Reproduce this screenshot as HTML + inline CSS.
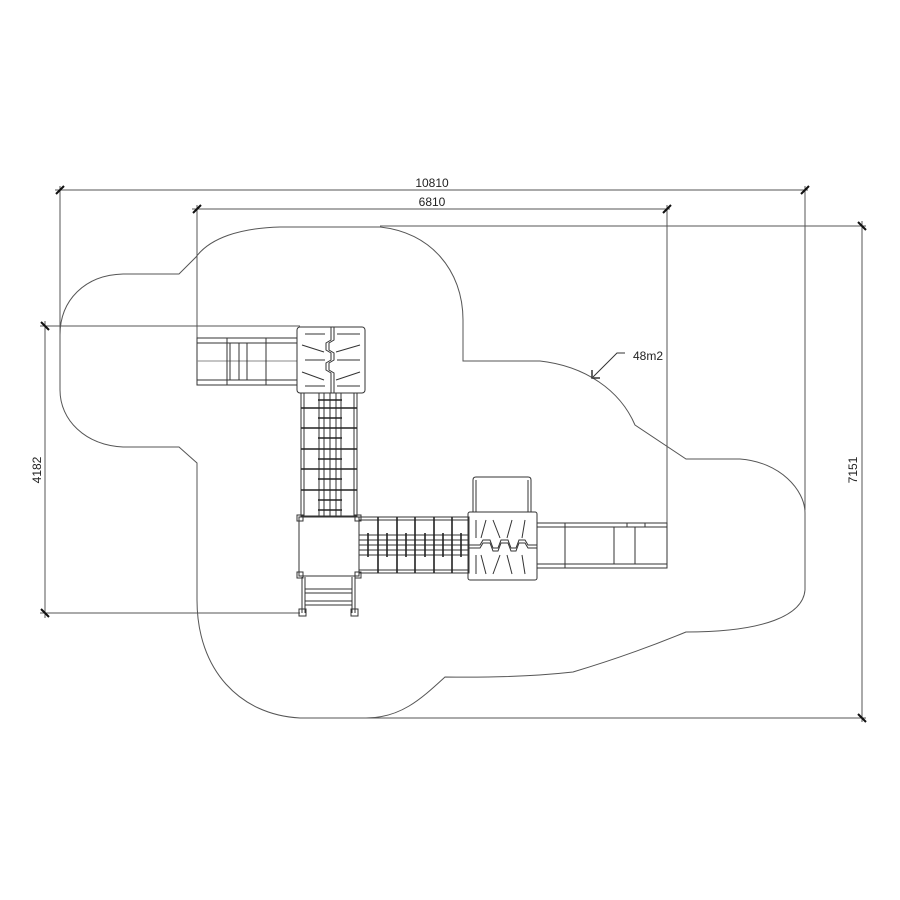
<!DOCTYPE html>
<html><head><meta charset="utf-8"><style>html,body{margin:0;padding:0;background:#fff}svg{display:block}</style></head>
<body>
<svg width="900" height="900" viewBox="0 0 900 900" xmlns="http://www.w3.org/2000/svg" font-family="Liberation Sans, sans-serif">
<g fill="none" stroke="#555" stroke-width="1">
<!-- cloud -->
<path d="M60,335 C60,300 85,275 123,274 L179,274 L196,257 C210,238 240,228 280,227 L380,227 C430,232 463,270 463,320 L463,361 L540,361 C585,366 620,390 635,425 L686,459 L740,459 C780,462 805,490 805,513 L805,590 C803,615 765,632 686,632 Q630,655 573,672 Q520,678 445,677 C420,700 400,718 366,718 L300,718 C240,715 197,670 197,600 L197,463 L179,447 L123,447 C85,445 60,420 60,390 Z"/>
<!-- dimension lines -->
<line x1="55" y1="190" x2="808" y2="190"/>
<line x1="60" y1="186" x2="60" y2="335"/>
<line x1="805" y1="186" x2="805" y2="510"/>
<line x1="192" y1="209" x2="670" y2="209"/>
<line x1="197" y1="205" x2="197" y2="340"/>
<line x1="667" y1="205" x2="667" y2="525"/>
<line x1="380" y1="226" x2="866" y2="226"/>
<line x1="300" y1="718" x2="866" y2="718"/>
<line x1="862" y1="221" x2="862" y2="722"/>
<line x1="40" y1="326" x2="300" y2="326"/>
<line x1="40" y1="613" x2="300" y2="613"/>
<line x1="45" y1="321" x2="45" y2="618"/>
</g>
<g stroke="#111" stroke-width="2">
<line x1="56" y1="194" x2="64" y2="186"/><line x1="801" y1="194" x2="809" y2="186"/>
<line x1="193" y1="213" x2="201" y2="205"/><line x1="663" y1="213" x2="671" y2="205"/>
<line x1="858" y1="222" x2="866" y2="230"/><line x1="858" y1="714" x2="866" y2="722"/>
<line x1="41" y1="322" x2="49" y2="330"/><line x1="41" y1="609" x2="49" y2="617"/>
</g>
<g font-size="12" fill="#222" text-anchor="middle">
<text x="432" y="187">10810</text>
<text x="432" y="206">6810</text>
<text transform="translate(41,470) rotate(-90)">4182</text>
<text transform="translate(857,470) rotate(-90)">7151</text>
<text x="648" y="360">48m2</text>
</g>
<polyline points="625,353 617,353 593,377" fill="none" stroke="#333"/>
<polyline points="592,370 592,378 600,378" fill="none" stroke="#333" stroke-width="1.5"/>

<!-- structure -->
<g fill="none" stroke="#333" stroke-width="1">
<rect x="197" y="338" width="100" height="47"/>
<line x1="197" y1="343" x2="297" y2="343"/><line x1="197" y1="380" x2="297" y2="380"/>
<line x1="197" y1="361" x2="297" y2="361" stroke="#888"/>
<line x1="227" y1="338" x2="227" y2="385"/><line x1="230" y1="343" x2="230" y2="380"/>
<line x1="239" y1="343" x2="239" y2="380"/><line x1="247" y1="343" x2="247" y2="380"/>
<line x1="266" y1="338" x2="266" y2="385"/>
<rect x="297" y="327" width="68" height="66" rx="3"/>
<polyline points="331,327 331,340 326,343 326,350 331,353 331,360 326,363 326,370 331,373 331,393"/>
<polyline points="334,327 334,340 329,343 329,350 334,353 334,360 329,363 329,370 334,373 334,393"/>
<line x1="305" y1="334" x2="325" y2="334"/><line x1="337" y1="334" x2="360" y2="334"/>
<line x1="302" y1="345" x2="324" y2="352"/><line x1="336" y1="352" x2="360" y2="345"/>
<line x1="305" y1="360" x2="325" y2="360"/><line x1="337" y1="360" x2="360" y2="360"/>
<line x1="302" y1="372" x2="324" y2="380"/><line x1="336" y1="380" x2="360" y2="372"/>
<line x1="305" y1="386" x2="325" y2="386"/><line x1="337" y1="386" x2="360" y2="386"/>
<rect x="301" y="393" width="56" height="123"/>
<line x1="304" y1="393" x2="304" y2="516"/><line x1="354" y1="393" x2="354" y2="516"/>
<line x1="319" y1="393" x2="319" y2="516"/><line x1="324" y1="393" x2="324" y2="516"/>
<line x1="330" y1="393" x2="330" y2="516"/><line x1="336" y1="393" x2="336" y2="516"/><line x1="341" y1="393" x2="341" y2="516"/>
</g>
<g stroke="#222" stroke-width="1.6">
<line x1="318" y1="400" x2="342" y2="400"/><line x1="301" y1="408" x2="357" y2="408"/>
<line x1="318" y1="418" x2="342" y2="418"/><line x1="301" y1="428" x2="357" y2="428"/>
<line x1="318" y1="438" x2="342" y2="438"/><line x1="301" y1="449" x2="357" y2="449"/>
<line x1="318" y1="459" x2="342" y2="459"/><line x1="301" y1="469" x2="357" y2="469"/>
<line x1="318" y1="479" x2="342" y2="479"/><line x1="301" y1="490" x2="357" y2="490"/>
<line x1="318" y1="500" x2="342" y2="500"/><line x1="318" y1="510" x2="342" y2="510"/>
</g>
<g fill="none" stroke="#333" stroke-width="1">
<rect x="299" y="517" width="60" height="59"/>
<rect x="297" y="515" width="6" height="6"/><rect x="355" y="515" width="6" height="6"/>
<rect x="297" y="572" width="6" height="6"/><rect x="355" y="572" width="6" height="6"/>
<line x1="302" y1="577" x2="302" y2="613"/><line x1="305" y1="577" x2="305" y2="613"/>
<line x1="352" y1="577" x2="352" y2="613"/><line x1="355" y1="577" x2="355" y2="613"/>
<line x1="305" y1="589" x2="352" y2="589"/><line x1="305" y1="593" x2="352" y2="593"/>
<line x1="305" y1="601" x2="352" y2="601"/><line x1="305" y1="605" x2="352" y2="605"/>
<rect x="299" y="609" width="7" height="7"/><rect x="351" y="609" width="7" height="7"/>
<rect x="359" y="517" width="110" height="56"/>
<line x1="359" y1="520" x2="469" y2="520"/><line x1="359" y1="570" x2="469" y2="570"/>
<line x1="359" y1="535" x2="469" y2="535"/><line x1="359" y1="540" x2="469" y2="540"/>
<line x1="359" y1="545" x2="469" y2="545"/><line x1="359" y1="550" x2="469" y2="550"/><line x1="359" y1="555" x2="469" y2="555"/>
</g>
<g stroke="#222" stroke-width="1.6">
<line x1="378" y1="517" x2="378" y2="573"/><line x1="397" y1="517" x2="397" y2="573"/>
<line x1="415" y1="517" x2="415" y2="573"/><line x1="434" y1="517" x2="434" y2="573"/>
<line x1="452" y1="517" x2="452" y2="573"/>
<line x1="368" y1="533" x2="368" y2="557"/><line x1="387" y1="533" x2="387" y2="557"/>
<line x1="406" y1="533" x2="406" y2="557"/><line x1="425" y1="533" x2="425" y2="557"/>
<line x1="443" y1="533" x2="443" y2="557"/><line x1="461" y1="533" x2="461" y2="557"/>
</g>
<g fill="none" stroke="#333" stroke-width="1">
<path d="M473,512 L473,480 Q473,477 476,477 L528,477 Q531,477 531,480 L531,512"/>
<line x1="476" y1="480" x2="476" y2="512"/><line x1="528" y1="480" x2="528" y2="512"/>
<rect x="468" y="512" width="69" height="68" rx="2"/>
<polyline points="468,545 480,545 483,540 490,540 493,548 498,548 501,540 508,540 511,548 516,548 519,540 525,540 528,545 537,545"/>
<polyline points="468,548 480,548 483,543 490,543 493,551 498,551 501,543 508,543 511,551 516,551 519,543 525,543 528,548 537,548"/>
<line x1="476" y1="520" x2="476" y2="538"/><line x1="486" y1="520" x2="481" y2="538"/><line x1="493" y1="520" x2="500" y2="538"/>
<line x1="512" y1="520" x2="507" y2="538"/><line x1="525" y1="520" x2="522" y2="538"/>
<line x1="476" y1="555" x2="476" y2="574"/><line x1="486" y1="574" x2="481" y2="555"/><line x1="493" y1="574" x2="500" y2="555"/>
<line x1="512" y1="574" x2="507" y2="555"/><line x1="525" y1="574" x2="522" y2="555"/>
<rect x="537" y="523" width="130" height="45"/>
<line x1="537" y1="527" x2="667" y2="527"/><line x1="537" y1="564" x2="667" y2="564"/>
<line x1="565" y1="523" x2="565" y2="568"/>
<line x1="614" y1="527" x2="614" y2="564"/><line x1="635" y1="527" x2="635" y2="564"/>
<line x1="627" y1="523" x2="627" y2="527"/><line x1="645" y1="523" x2="645" y2="527"/>
</g>
</svg>
</body></html>
